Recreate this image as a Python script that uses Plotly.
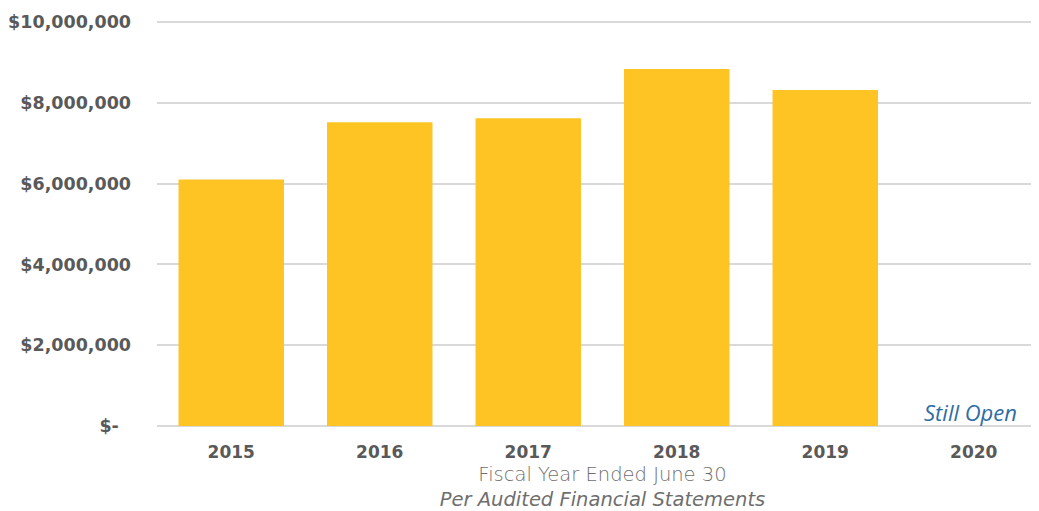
import plotly.graph_objects as go

years = ["2015", "2016", "2017", "2018", "2019", "2020"]
revenue = [6100000, 7520000, 7620000, 8840000, 8320000, None]
tick_vals = [0, 2000000, 4000000, 6000000, 8000000, 10000000]
tick_text = ["$-\u00a0\u00a0", "$2,000,000", "$4,000,000", "$6,000,000", "$8,000,000", "$10,000,000"]

fig = go.Figure()
fig.add_trace(go.Bar(x=years, y=revenue, marker_color="#FDC423", marker_line_width=0))

# category axis: annotation x is the category index
fig.add_annotation(x=years.index("2020"), y=0, text="<i>Still Open</i>", showarrow=False,
                   yanchor="bottom", xanchor="center", xshift=-3, yshift=-3,
                   font=dict(family="Open Sans", size=22, color="#2E6DA4"))

# page body has an 8px margin, so the figure is offset by that much
fig.update_layout(
    width=1040, height=503,
    margin=dict(l=149, r=0, t=12, b=85),
    plot_bgcolor="white", paper_bgcolor="white",
    bargap=0.29, showlegend=False,
    font=dict(family="DejaVu Sans", color="#595959"),
)
fig.update_xaxes(
    type="category", range=[-0.5, 5.5],
    tickfont=dict(size=17, color="#595959", family="DejaVu Sans", weight="bold"),
    ticks="", showline=False, automargin=False, ticklabelstandoff=14,
    title=dict(text="Fiscal Year Ended June 30<br><i>Per Audited Financial Statements</i>",
               font=dict(size=19.5, color="#6E6E6E", family="DejaVu Sans", weight=200), standoff=8),
)
fig.update_yaxes(
    range=[0, 10050000], tickvals=tick_vals, ticktext=tick_text,
    tickfont=dict(size=17.5, color="#595959", family="DejaVu Sans", weight="bold"),
    gridcolor="#D9D9D9", gridwidth=1.5, zeroline=True, zerolinecolor="#D9D9D9", zerolinewidth=1.5,
    ticks="", ticklen=0, showline=False, automargin=False, ticklabelstandoff=25,
)

fig.write_html("out.html")
